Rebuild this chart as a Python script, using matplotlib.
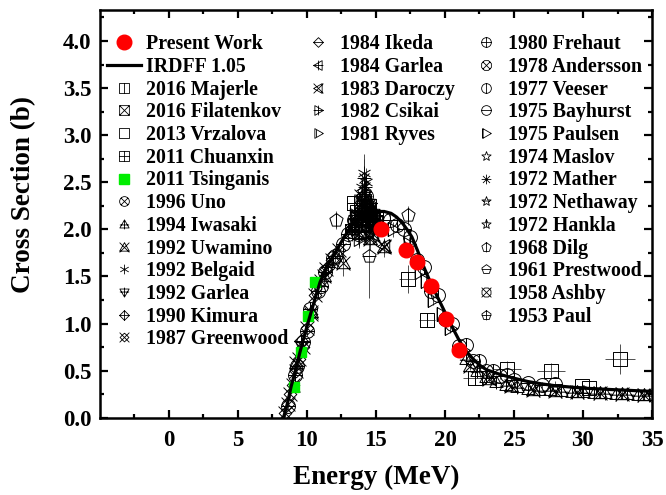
import numpy as np
import matplotlib
matplotlib.use("Agg")
import matplotlib.pyplot as plt
from matplotlib.path import Path

plt.rcParams.update(
    {
        "font.family": "serif",
        "font.serif": ["Liberation Serif", "DejaVu Serif"],
        "font.weight": "bold",
        "axes.labelweight": "bold",
    }
)

# --- data ---
irdff_e = [8.3, 8.6, 8.85, 9.2, 9.5, 9.85, 10.2, 10.6, 10.95, 11.5, 12.2, 12.7, 13.2,
           13.8, 14.4, 15.0, 15.6, 16.1, 16.5, 16.9, 17.3, 17.6, 18.0, 18.5, 19.0,
           19.5, 20.0, 20.5, 21.0, 21.4, 22.0, 22.5, 23.0, 24.0, 25.0, 26.0, 27.0,
           28.0, 30.0, 32.0, 35.0]
irdff_xs = [0.0, 0.16, 0.33, 0.52, 0.70, 0.89, 1.07, 1.27, 1.44, 1.62, 1.79, 1.92, 2.03,
            2.13, 2.18, 2.19, 2.19, 2.17, 2.13, 2.07, 1.99, 1.92, 1.78, 1.59, 1.42,
            1.27, 1.12, 0.97, 0.83, 0.73, 0.63, 0.56, 0.51, 0.46, 0.42, 0.385, 0.36,
            0.34, 0.315, 0.30, 0.28]

pw_e = [15.4, 17.2, 18.0, 19.0, 20.1, 21.0]
pw_xs = [2.00, 1.78, 1.65, 1.40, 1.05, 0.72]

tsinganis_e = [9.06, 9.55, 10.05, 10.55]
tsinganis_xs = [0.33, 0.70, 1.08, 1.44]

majerle_e = [17.3, 18.7, 22.2]
majerle_xs = [1.47, 1.04, 0.42]
majerle_err = [0.15, 0.06, 0.05]
majerle_xerr = [0.6, 0.6, 0.9]

filatenkov_e = [13.3, 13.5, 13.7, 13.9, 14.1, 14.3, 14.5, 14.7, 14.9]
filatenkov_xs = [1.98, 2.05, 2.12, 2.15, 2.24, 2.20, 2.16, 2.12, 2.08]
filatenkov_err = [0.08, 0.08, 0.08, 0.08, 0.08, 0.08, 0.08, 0.08, 0.08]

vrzalova_e = [24.5, 27.7, 29.9, 30.4, 32.7]
vrzalova_xs = [0.52, 0.50, 0.34, 0.32, 0.62]
vrzalova_err = [0.08, 0.08, 0.04, 0.03, 0.16]
vrzalova_xerr = [1.0, 1.0, 0.3, 0.3, 1.1]

chuanxin_e = [13.4, 13.6, 13.9, 14.1, 14.3, 14.5, 14.8]
chuanxin_xs = [2.28, 2.18, 2.05, 2.30, 1.98, 2.25, 2.10]
chuanxin_err = [0.10, 0.10, 0.10, 0.10, 0.10, 0.10, 0.10]

uno_e = [13.4, 13.7, 13.9, 14.3, 14.6, 14.8]
uno_xs = [2.10, 1.95, 2.22, 2.35, 1.92, 2.15]
uno_err = [0.10, 0.10, 0.10, 0.10, 0.10, 0.10]

iwasaki_e = [13.3, 14.0, 14.5, 21.5, 22.3, 23.0, 23.7, 24.4, 25.2, 26.0, 26.8, 27.6,
             28.4, 29.2, 30.0, 30.8, 31.6, 32.4, 33.2, 34.0, 34.8]
iwasaki_xs = [2.00, 2.20, 2.05, 0.62, 0.50, 0.43, 0.38, 0.35, 0.33, 0.31, 0.30, 0.29,
              0.28, 0.27, 0.27, 0.26, 0.26, 0.25, 0.25, 0.24, 0.24]
iwasaki_err = [0.10, 0.10, 0.10, 0.04, 0.03, 0.03, 0.03, 0.03, 0.03, 0.03, 0.03, 0.03,
               0.03, 0.03, 0.03, 0.03, 0.03, 0.03, 0.03, 0.03, 0.03]

uwamino_e = [9.2, 10.3, 11.2, 12.6, 14.6, 15.6, 21.8, 23.2, 24.8, 26.4, 28.0, 29.6,
             31.2, 32.8, 34.4]
uwamino_xs = [0.58, 1.12, 1.50, 1.64, 1.90, 1.81, 0.55, 0.41, 0.34, 0.30, 0.28, 0.27,
              0.26, 0.25, 0.24]
uwamino_err = [0.05, 0.08, 0.10, 0.13, 0.12, 0.10, 0.04, 0.03, 0.03, 0.03, 0.03, 0.03,
               0.03, 0.03, 0.03]

belgaid_e = [14.0, 14.1, 14.25]
belgaid_xs = [2.45, 2.60, 2.50]
belgaid_err = [0.15, 0.20, 0.15]

garlea92_e = [13.7, 14.2, 14.8]
garlea92_xs = [2.10, 2.30, 2.00]
garlea92_err = [0.10, 0.10, 0.10]

kimura_e = [9.6, 11.5, 13.5, 14.6]
kimura_xs = [0.82, 1.60, 2.05, 2.20]
kimura_err = [0.05, 0.08, 0.10, 0.10]

greenwood_e = [8.4, 8.6, 8.8, 9.0, 9.2, 9.45, 9.7, 10.0, 10.3, 10.6, 11.0, 11.4, 11.8,
               12.3, 14.5]
greenwood_xs = [0.05, 0.15, 0.25, 0.35, 0.50, 0.62, 0.75, 0.95, 1.10, 1.30, 1.45, 1.58,
                1.68, 1.78, 2.10]
greenwood_err = [0.04, 0.04, 0.04, 0.05, 0.05, 0.05, 0.06, 0.06, 0.07, 0.08, 0.08, 0.08,
                 0.09, 0.09, 0.10]

ikeda_e = [13.3, 13.6, 14.0, 14.5, 14.9]
ikeda_xs = [2.00, 2.10, 2.20, 2.15, 2.05]
ikeda_err = [0.08, 0.08, 0.08, 0.08, 0.08]

garlea84_e = [14.1, 14.7]
garlea84_xs = [2.25, 2.05]
garlea84_err = [0.10, 0.10]

daroczy_e = [13.9, 14.4, 14.8, 15.6]
daroczy_xs = [2.35, 2.15, 1.95, 1.82]
daroczy_err = [0.10, 0.10, 0.10, 0.08]

csikai_e = [13.5, 13.8, 14.2, 14.6, 14.8]
csikai_xs = [2.15, 1.90, 2.10, 2.28, 2.05]
csikai_err = [0.10, 0.10, 0.10, 0.10, 0.10]

ryves_e = [14.0, 14.5, 14.9]
ryves_xs = [2.12, 2.18, 2.10]
ryves_err = [0.08, 0.08, 0.08]

frehaut_e = [9.1, 9.7, 10.2, 10.8, 11.3, 11.9, 12.6, 13.3, 14.0, 14.6]
frehaut_xs = [0.45, 0.80, 1.15, 1.35, 1.55, 1.70, 1.85, 1.98, 2.08, 2.12]
frehaut_err = [0.05, 0.05, 0.06, 0.07, 0.08, 0.08, 0.09, 0.10, 0.10, 0.10]

andersson_e = [14.7]
andersson_xs = [2.10]
andersson_err = [0.10]

veeser_e = [14.7, 15.5, 16.5, 17.5, 18.5, 19.5, 20.5, 21.5, 22.5, 23.5, 24.5]
veeser_xs = [2.15, 2.12, 2.05, 1.92, 1.60, 1.30, 1.00, 0.77, 0.60, 0.50, 0.45]
veeser_err = [0.06, 0.06, 0.06, 0.06, 0.06, 0.06, 0.05, 0.04, 0.04, 0.03, 0.03]

bayhurst_e = [8.6, 9.3, 10.0, 11.0, 12.0, 13.0, 14.0, 15.0, 16.0, 17.0, 18.0, 19.0,
              20.0, 21.0, 22.0, 23.0, 24.0, 25.0, 26.0, 27.0, 28.0]
bayhurst_xs = [0.12, 0.55, 0.92, 1.40, 1.72, 1.95, 2.10, 2.05, 2.10, 2.00, 1.68, 1.35,
               1.05, 0.76, 0.60, 0.50, 0.44, 0.40, 0.37, 0.35, 0.36]
bayhurst_err = [0.03, 0.04, 0.05, 0.06, 0.07, 0.08, 0.08, 0.08, 0.08, 0.07, 0.06, 0.05,
                0.05, 0.04, 0.03, 0.03, 0.03, 0.03, 0.03, 0.03, 0.03]

paulsen_e = [16.2, 17.4, 18.2, 18.6, 19.1, 19.8, 20.4, 21.3]
paulsen_xs = [2.00, 1.85, 1.55, 1.45, 1.25, 1.10, 0.95, 0.72]
paulsen_err = [0.08, 0.07, 0.06, 0.06, 0.05, 0.05, 0.05, 0.04]

maslov_e = [13.5, 14.2, 14.5, 14.8]
maslov_xs = [2.05, 1.95, 2.30, 2.20]
maslov_err = [0.10, 0.10, 0.10, 0.10]

mather_e = [14.1, 14.2]
mather_xs = [2.55, 2.45]
mather_err = [0.20, 0.15]

nethaway_e = [14.7, 14.8]
nethaway_xs = [2.15, 2.10]
nethaway_err = [0.08, 0.08]

hankla_e = [14.1]
hankla_xs = [2.20]
hankla_err = [0.10]

dilg_e = [12.1, 17.3]
dilg_xs = [2.10, 2.15]
dilg_err = [0.10, 0.10]

prestwood_e = [14.5]
prestwood_xs = [1.72]
prestwood_err = [0.45]

ashby_e = [14.0, 14.5]
ashby_xs = [2.30, 2.20]
ashby_err = [0.10, 0.10]

paul_e = [14.1, 14.5]
paul_xs = [2.40, 2.25]
paul_err = [0.10, 0.10]


# --- composite open markers (Origin style) ---
def ngon(n, rot=90.0, r=1.0):
    a = np.deg2rad(rot + 360.0 * np.arange(n) / n)
    return list(zip(r * np.cos(a), r * np.sin(a)))


def star(n=5, r1=1.0, r2=0.42):
    a = np.deg2rad(90.0 + 180.0 * np.arange(2 * n) / n)
    r = np.where(np.arange(2 * n) % 2 == 0, r1, r2)
    return list(zip(r * np.cos(a), r * np.sin(a)))


SHAPES = {
    "square": [(-1, -1), (1, -1), (1, 1), (-1, 1)],
    "tri_up": [(0, 1), (-1, -0.75), (1, -0.75)],
    "tri_down": [(0, -1), (1, 0.75), (-1, 0.75)],
    "tri_left": [(-1, 0), (0.75, 1), (0.75, -1)],
    "tri_right": [(1, 0), (-0.75, -1), (-0.75, 1)],
    "diamond": [(0, 1), (1, 0), (0, -1), (-1, 0)],
    "pent": ngon(5),
    "oct": ngon(8, 22.5),
    "star": star(),
}
V = [((0, -1), (0, 1))]
H = [((-1, 0), (1, 0))]
X = [((-0.72, -0.72), (0.72, 0.72)), ((-0.72, 0.72), (0.72, -0.72))]
XS = [((-1, -1), (1, 1)), ((-1, 1), (1, -1))]
XB = [((-1.1, -1.1), (1.1, 1.1)), ((-1.1, 1.1), (1.1, -1.1))]


def marker(outline=None, lines=()):
    verts, codes = [], []
    if outline == "circle":
        c = Path.unit_circle()
        verts += [tuple(v) for v in c.vertices]
        codes += list(c.codes)
    elif outline is not None:
        pts = SHAPES[outline]
        verts += pts + [pts[0]]
        codes += [Path.MOVETO] + [Path.LINETO] * len(pts)
    for a, b in lines:
        verts += [a, b]
        codes += [Path.MOVETO, Path.LINETO]
    return Path(verts, codes)


asterisk6 = [((0, -1), (0, 1)), ((-0.87, -0.5), (0.87, 0.5)), ((-0.87, 0.5), (0.87, -0.5))]
asterisk8 = V + H + X

fig = plt.figure(figsize=(6.66, 4.95), dpi=100)
ax = fig.add_axes([0.150, 0.156, 0.829, 0.824])

col1 = [
    ("2016 Majerle", majerle_e, majerle_xs, majerle_err, majerle_xerr, marker("square", V)),
    ("2016 Filatenkov", filatenkov_e, filatenkov_xs, filatenkov_err, None, marker("square", XS)),
    ("2013 Vrzalova", vrzalova_e, vrzalova_xs, vrzalova_err, vrzalova_xerr, marker("square")),
    ("2011 Chuanxin", chuanxin_e, chuanxin_xs, chuanxin_err, None, marker("square", V + H)),
    ("2011 Tsinganis", None, None, None, None, None),
    ("1996 Uno", uno_e, uno_xs, uno_err, None, marker("circle", X)),
    ("1994 Iwasaki", iwasaki_e, iwasaki_xs, iwasaki_err, None,
     marker("tri_up", [((0, -1.05), (0, 1))] + [((-1, -0.1), (1, -0.1))])),
    ("1992 Uwamino", uwamino_e, uwamino_xs, uwamino_err, None, marker("tri_up", XS)),
    ("1992 Belgaid", belgaid_e, belgaid_xs, belgaid_err, None, marker(None, asterisk6)),
    ("1992 Garlea", garlea92_e, garlea92_xs, garlea92_err, None,
     marker("tri_down", [((0, -1), (0, 1.05))] + [((-1, 0.1), (1, 0.1))])),
    ("1990 Kimura", kimura_e, kimura_xs, kimura_err, None, marker("diamond", V + H)),
    ("1987 Greenwood", greenwood_e, greenwood_xs, greenwood_err, None, marker("diamond", XB)),
]
col2 = [
    ("1984 Ikeda", ikeda_e, ikeda_xs, ikeda_err, None, marker("diamond", H)),
    ("1984 Garlea", garlea84_e, garlea84_xs, garlea84_err, None, marker("tri_left", V + H)),
    ("1983 Daroczy", daroczy_e, daroczy_xs, daroczy_err, None, marker("tri_left", XS)),
    ("1982 Csikai", csikai_e, csikai_xs, csikai_err, None, marker("tri_right", V + H)),
    ("1981 Ryves", ryves_e, ryves_xs, ryves_err, None, marker("tri_right", [((-0.4, -0.7), (-0.4, 0.7))])),
]
col3 = [
    ("1980 Frehaut", frehaut_e, frehaut_xs, frehaut_err, None, marker("circle", V + H)),
    ("1978 Andersson", andersson_e, andersson_xs, andersson_err, None, marker("oct", X)),
    ("1977 Veeser", veeser_e, veeser_xs, veeser_err, None, marker("circle", V)),
    ("1975 Bayhurst", bayhurst_e, bayhurst_xs, bayhurst_err, None, marker("circle", H)),
    ("1975 Paulsen", paulsen_e, paulsen_xs, paulsen_err, None, marker("tri_right", [((-0.75, -1), (-0.75, 1))])),
    ("1974 Maslov", maslov_e, maslov_xs, maslov_err, None, marker("star")),
    ("1972 Mather", mather_e, mather_xs, mather_err, None, marker(None, asterisk8)),
    ("1972 Nethaway", nethaway_e, nethaway_xs, nethaway_err, None, marker("star", [((-0.6, 0.1), (0.6, 0.1))])),
    ("1972 Hankla", hankla_e, hankla_xs, hankla_err, None, marker("star", [((0, -0.6), (0, 1))])),
    ("1968 Dilg", dilg_e, dilg_xs, dilg_err, None, marker("pent", V)),
    ("1961 Prestwood", prestwood_e, prestwood_xs, prestwood_err, None, marker("pent", H)),
    ("1958 Ashby", ashby_e, ashby_xs, ashby_err, None, marker("oct", XS)),
    ("1953 Paul", paul_e, paul_xs, paul_err, None, marker("pent", V + H)),
]

handles = {}
for name, e, s, err, xerr, mk in col1 + col2 + col3:
    if e is None:
        continue
    ax.errorbar(e, s, yerr=err, xerr=xerr, fmt="none", ecolor="#333333",
                elinewidth=0.6, capsize=0, zorder=1.5)
    ax.plot(e, s, ls="none", marker=mk, ms=10, mfc="none", mec="black",
            mew=0.7, zorder=2)
    # smaller copy for the legend
    (h,) = ax.plot([], [], ls="none", marker=mk, ms=7, mfc="none", mec="black", mew=0.6)
    handles[name] = h

(h_ts,) = ax.plot(tsinganis_e, tsinganis_xs, ls="none", marker="s", ms=7.5,
                  color="#00ee00", zorder=3)
handles["2011 Tsinganis"] = h_ts
(h_ir,) = ax.plot(irdff_e, irdff_xs, "-", color="black", lw=2.3, zorder=4)
(h_pw,) = ax.plot(pw_e, pw_xs, ls="none", marker="o", ms=10.5, color="red",
                  zorder=5)

ax.set_xlim(-5, 35)
ax.set_ylim(0, 4.33)
ax.set_xticks(np.arange(0, 36, 5))
ax.set_xticks(np.arange(-2.5, 35, 5), minor=True)
ax.set_yticks(np.arange(0, 4.01, 0.5))
ax.set_yticks(np.arange(0.25, 4.3, 0.5), minor=True)
ax.set_yticklabels([f"{v:.1f}" for v in np.arange(0, 4.01, 0.5)])
ax.tick_params(which="both", direction="in", top=True, right=True, width=1.6,
               labelsize=16.5)
ax.tick_params(which="major", length=5.5)
ax.tick_params(axis="x", which="major", pad=9)
ax.tick_params(axis="y", which="major", pad=6)
ax.tick_params(which="minor", length=3)
for sp in ax.spines.values():
    sp.set_linewidth(1.8)

ax.set_xlabel("Energy (MeV)", fontsize=19.5, labelpad=10)
ax.set_ylabel("Cross Section (b)", fontsize=19.5, labelpad=15)
ax.yaxis.set_label_coords(-0.115, 0.547)

leg_kw = dict(frameon=False, loc="upper left", borderpad=0,
              borderaxespad=0, handlelength=1.71, handletextpad=0.25,
              labelspacing=0.135, numpoints=1, prop={"weight": "bold", "size": 14.3})

l1_h = [h_pw, h_ir] + [handles[n] for n, *_ in col1]
l1_l = ["Present Work", "IRDFF 1.05"] + [n for n, *_ in col1]
leg1 = ax.legend(l1_h, l1_l, bbox_to_anchor=(0.013, 0.94), **leg_kw)
ax.add_artist(leg1)
leg2 = ax.legend([handles[n] for n, *_ in col2], [n for n, *_ in col2],
                 bbox_to_anchor=(0.364, 0.94), **leg_kw)
ax.add_artist(leg2)
ax.legend([handles[n] for n, *_ in col3], [n for n, *_ in col3],
          bbox_to_anchor=(0.668, 0.94), **leg_kw)

fig.savefig("out.png", dpi=100)
